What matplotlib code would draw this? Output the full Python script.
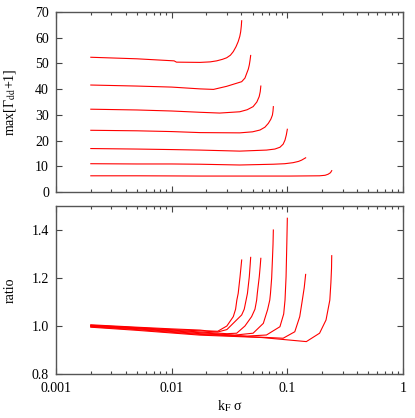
import matplotlib
matplotlib.use("Agg")
import matplotlib.pyplot as plt
from matplotlib.ticker import LogLocator, NullFormatter, FixedLocator, FormatStrFormatter

plt.rcParams['font.family'] = ['Liberation Serif', 'DejaVu Serif']
plt.rcParams['mathtext.fontset'] = 'stix'
plt.rcParams['font.size'] = 10

# kF*sigma values and max[Gamma_dd+1] for each curve
x_top = [
    [0.002, 0.005, 0.0105, 0.0110, 0.0176, 0.0215, 0.0245, 0.0275, 0.0299, 0.0322, 0.0341,
     0.0360, 0.0376, 0.0388, 0.0395, 0.0400, 0.0403],
    [0.002, 0.005, 0.010, 0.0176, 0.0230, 0.0299, 0.0403, 0.0430, 0.0446, 0.0460, 0.0469,
     0.0476, 0.0482],
    [0.002, 0.005, 0.010, 0.0176, 0.026, 0.0388, 0.0450, 0.0506, 0.0545, 0.0571, 0.0583, 0.0590],
    [0.002, 0.005, 0.010, 0.0176, 0.0388, 0.0500, 0.0580, 0.0640, 0.0685, 0.0720, 0.0743,
     0.0752, 0.0757],
    [0.002, 0.005, 0.010, 0.0176, 0.0388, 0.066, 0.078, 0.0863, 0.0920, 0.0955, 0.0980, 0.100],
    [0.002, 0.005, 0.010, 0.0176, 0.0388, 0.0757, 0.095, 0.112, 0.125, 0.133, 0.139, 0.144],
    [0.002, 0.005, 0.010, 0.0176, 0.0388, 0.105, 0.190, 0.212, 0.225, 0.236, 0.242],
]
gamma_top = [
    [52.4, 51.8, 51.0, 50.5, 50.4, 50.6, 51.0, 51.6, 52.2, 53.2, 54.6,
     56.5, 58.5, 60.5, 62.3, 64.5, 66.6],
    [41.6, 41.2, 40.8, 40.1, 39.9, 41.1, 42.9, 44.3, 46.2, 47.8, 49.4, 51.2, 53.1],
    [32.2, 31.9, 31.5, 31.0, 30.7, 31.2, 32.0, 33.2, 35.0, 37.1, 39.0, 41.2],
    [24.0, 23.8, 23.5, 23.1, 23.0, 23.4, 24.1, 25.2, 26.7, 28.3, 29.9, 31.5, 33.2],
    [16.9, 16.7, 16.5, 16.3, 15.9, 16.3, 16.7, 17.4, 18.6, 20.2, 22.2, 24.4],
    [11.0, 10.9, 10.9, 10.8, 10.5, 10.8, 11.0, 11.4, 11.9, 12.4, 12.9, 13.3],
    [6.3, 6.3, 6.25, 6.2, 6.2, 6.2, 6.3, 6.5, 6.9, 7.5, 8.3],
]

# ratio curves
x_bot = [
    [0.002, 0.005, 0.010, 0.0176, 0.0200, 0.0250, 0.0300, 0.0341, 0.0357, 0.0366, 0.0376,
     0.0390, 0.0403],
    [0.002, 0.005, 0.010, 0.0176, 0.0250, 0.0300, 0.0364, 0.0403, 0.0424, 0.0440, 0.0452,
     0.0469, 0.0478, 0.0482],
    [0.002, 0.005, 0.010, 0.0176, 0.0300, 0.0365, 0.0430, 0.0491, 0.0525, 0.0543, 0.0550,
     0.0572, 0.0583, 0.0590],
    [0.002, 0.005, 0.010, 0.0176, 0.0350, 0.0506, 0.0620, 0.0675, 0.0705, 0.0715, 0.0732,
     0.0743, 0.0752, 0.0757],
    [0.002, 0.005, 0.010, 0.0176, 0.0450, 0.066, 0.0863, 0.0930, 0.0955, 0.0975, 0.0990, 0.100],
    [0.002, 0.005, 0.010, 0.0176, 0.0500, 0.092, 0.116, 0.128, 0.134, 0.140, 0.144],
    [0.002, 0.005, 0.010, 0.0176, 0.0600, 0.146, 0.190, 0.216, 0.233, 0.238, 0.241, 0.242],
]
ratio_bot = [
    [1.005, 0.995, 0.988, 0.983, 0.980, 0.978, 1.000, 1.039, 1.070, 1.108, 1.136, 1.205, 1.275],
    [1.003, 0.993, 0.985, 0.980, 0.975, 0.985, 1.025, 1.046, 1.070, 1.108, 1.136, 1.205,
     1.260, 1.286],
    [1.002, 0.992, 0.983, 0.975, 0.968, 0.970, 1.000, 1.039, 1.070, 1.108, 1.136, 1.205,
     1.250, 1.282],
    [1.000, 0.990, 0.980, 0.972, 0.962, 0.970, 1.011, 1.068, 1.108, 1.136, 1.200, 1.275,
     1.340, 1.400],
    [0.999, 0.988, 0.977, 0.968, 0.958, 0.9625, 0.997, 1.050, 1.108, 1.205, 1.345, 1.449],
    [0.997, 0.985, 0.974, 0.965, 0.955, 0.949, 0.976, 1.039, 1.100, 1.160, 1.215],
    [0.995, 0.982, 0.971, 0.962, 0.952, 0.935, 0.970, 1.025, 1.108, 1.180, 1.240, 1.293],
]

y_ticks_top = [0, 10, 20, 30, 40, 50, 60, 70]
y_ticks_bot = [0.8, 1.0, 1.2, 1.4]
x_ticks = [0.001, 0.01, 0.1, 1]
x_labels = ['0.001', '0.01', '0.1', '1']

W, H = 415, 418
fig = plt.figure(figsize=(W / 100, H / 100), dpi=100)
ax1 = fig.add_axes([56 / W, 1 - 192 / H, 347 / W, 180 / H])
ax2 = fig.add_axes([56 / W, 1 - 374 / H, 347 / W, 168 / H])

for xs, ys in zip(x_top, gamma_top):
    ax1.plot(xs, ys, color='red', lw=0.8)
for xs, ys in zip(x_bot, ratio_bot):
    ax2.plot(xs, ys, color='red', lw=0.8)

for ax in (ax1, ax2):
    ax.set_xscale('log')
    ax.set_xlim(0.001, 1)
    ax.xaxis.set_major_locator(FixedLocator(x_ticks))
    ax.xaxis.set_minor_locator(LogLocator(base=10, subs=range(2, 10)))
    ax.xaxis.set_minor_formatter(NullFormatter())
    ax.tick_params(which='both', direction='in', top=True, right=True, color='#444444')
    ax.tick_params(which='major', length=4, width=0.8)
    ax.tick_params(which='minor', length=2, width=0.8)
    ax.tick_params(axis='x', pad=6)
    ax.tick_params(axis='y', pad=5)
    for s in ax.spines.values():
        s.set_color('#555555')
        s.set_linewidth(1.0)

ax1.set_ylim(0, 70)
ax1.set_yticks(y_ticks_top)
ax1.set_xticklabels([])
ax1.set_ylabel('max[Γ$_{\\rm dd}$+1]')
ax1.yaxis.set_label_coords(-0.110, 0.5)

ax2.set_ylim(0.8, 1.5)
ax2.set_yticks(y_ticks_bot)
ax2.yaxis.set_major_formatter(FormatStrFormatter('%.1f'))
ax2.set_xticklabels(x_labels)
ax2.set_ylabel('ratio')
ax2.yaxis.set_label_coords(-0.113, 0.5)
ax2.set_xlabel('k$_{\\rm F}$ σ', labelpad=2)

fig.savefig('out.png', dpi=100)
